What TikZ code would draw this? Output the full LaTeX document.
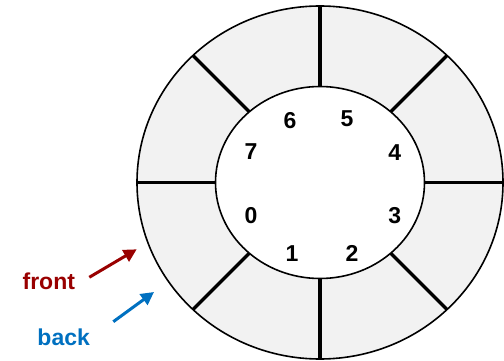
\documentclass[tikz,border=0pt]{standalone}
\usepackage{fontspec}
\setmainfont{Liberation Sans}
\usetikzlibrary{arrows.meta}
\definecolor{ringfill}{RGB}{242,242,242}
\definecolor{frontred}{RGB}{153,0,0}
\definecolor{backblue}{RGB}{0,112,192}
\tikzset{
  slotlabel/.style={font=\fontsize{23}{27}\selectfont\bfseries, inner sep=0pt},
  ptrlabel/.style={font=\fontsize{23}{27}\selectfont\bfseries, inner sep=0pt, anchor=base},
  ptrarrow/.style={line width=3pt, -{Triangle[length=13pt,width=13pt]}},
  spoke/.style={line width=3.2pt},
  rim/.style={line width=1.6pt}
}
\begin{document}
\begin{tikzpicture}[x=1pt,y=-1pt]
\useasboundingbox (0,0) rectangle (504,361);
\coordinate (c) at (320,182.5);
% ring body
\fill[ringfill] (c) ellipse [x radius=183pt, y radius=176.5pt];
% slot dividers
\begin{scope}
  \clip (c) ellipse [x radius=183pt, y radius=176.5pt];
  \foreach \a in {0,45,...,315}
    \draw[spoke] (c) -- ++(\a:-260pt);
\end{scope}
% hub
\draw[rim, fill=white] (c) ellipse [x radius=104.5pt, y radius=96pt];
\draw[rim] (c) ellipse [x radius=183pt, y radius=176.5pt];
% slot indices
\node[slotlabel] (s0) at (251,215.7) {0};
\node[slotlabel] (s1) at (292,253.7) {1};
\node[slotlabel] (s2) at (352,253.7) {2};
\node[slotlabel] (s3) at (394.7,216) {3};
\node[slotlabel] (s4) at (394.7,152.5) {4};
\node[slotlabel] (s5) at (347,118.7) {5};
\node[slotlabel] (s6) at (290,120.7) {6};
\node[slotlabel] (s7) at (251,151.7) {7};
% pointers
\node[ptrlabel, text=frontred] (front) at (48.8,289.3) {front};
\node[ptrlabel, text=backblue] (back) at (63.7,345.7) {back};
\coordinate (fa) at (89.3,277.3);
\coordinate (fb) at (136.7,249.3);
\coordinate (ba) at (113.3,321.7);
\coordinate (bb) at (154,292);
\draw[ptrarrow, frontred] (fa) -- (fb);
\draw[ptrarrow, backblue] (ba) -- (bb);
\end{tikzpicture}
\end{document}
